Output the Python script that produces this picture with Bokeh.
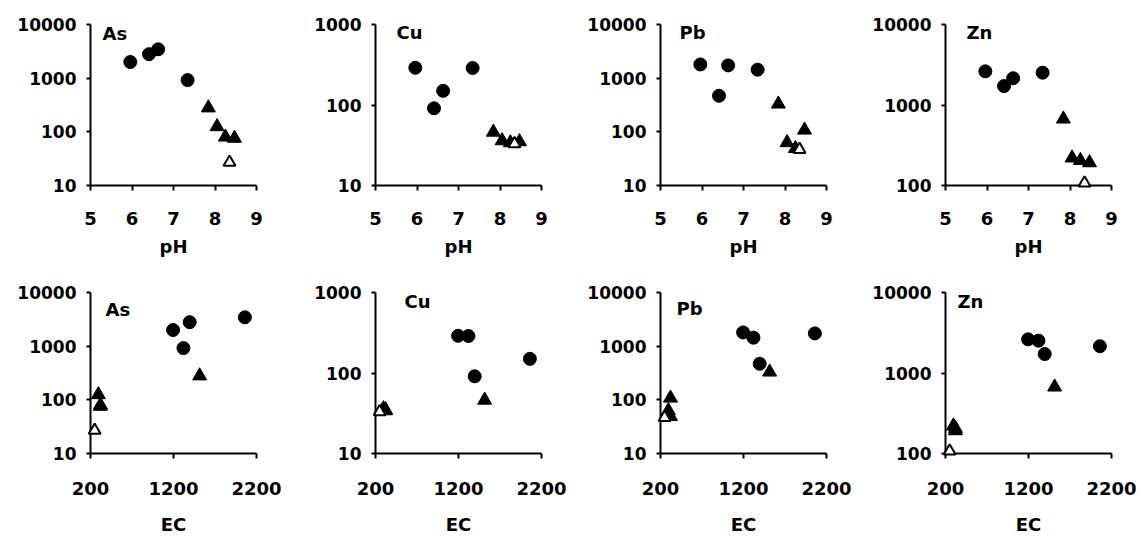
from bokeh.plotting import figure
from bokeh.layouts import gridplot
from bokeh.models import FixedTicker, PrintfTickFormatter, Label, Range1d
from bokeh.embed import file_html
from bokeh.resources import INLINE

# ---- data (9 samples) ----
groups = ["circle"] * 4 + ["filled"] * 4 + ["open"]
pH = [5.96, 6.41, 6.63, 7.34, 7.84, 8.05, 8.25, 8.47, 8.35]
EC = [1195, 1395, 2060, 1320, 1515, 295, 320, 320, 250]
As = [2000, 2800, 3450, 920, 280, 125, 80, 76, 27]
Cu = [290, 91, 150, 288, 46, 36, 34, 35, 33]
Pb = [1800, 470, 1730, 1440, 330, 63, 49, 108, 47]
Zn = [2620, 1720, 2150, 2520, 670, 220, 205, 192, 107]

elements = ["As", "Cu", "Pb", "Zn"]
values = {"As": As, "Cu": Cu, "Pb": Pb, "Zn": Zn}
y_limits = {"As": (10, 10000), "Cu": (10, 1000), "Pb": (10, 10000), "Zn": (100, 10000)}
y_ticks = {"As": [10, 100, 1000, 10000], "Cu": [10, 100, 1000],
           "Pb": [10, 100, 1000, 10000], "Zn": [100, 1000, 10000]}
ph_limits = (5, 9)
ph_ticks = [5, 6, 7, 8, 9]
ec_limits = (200, 2200)
ec_ticks = [200, 1200, 2200]

# ---- styling / layout ----
FONT = "DejaVu Sans"
label_pos_top = [(12, 1), (21, 0), (19, 0), (21, 0)]
label_pos_bot = [(15, 9), (29, 1), (16, 8), (12, 1)]


def make_panel(el, xvals, xlim, xticks, xlabel, width, height, border_right, lab_pos,
               tick_standoff, label_standoff):
    p = figure(width=width, height=height, y_axis_type="log",
               x_range=Range1d(*xlim), y_range=Range1d(*y_limits[el]),
               output_backend="svg", toolbar_location=None,
               min_border_left=90, min_border_right=border_right,
               min_border_top=24, min_border_bottom=height - 185)
    p.outline_line_color = None
    p.xgrid.visible = False
    p.ygrid.visible = False
    p.background_fill_color = "white"
    p.border_fill_color = "white"

    yv = values[el]
    for g, kw in [("circle", dict(marker="circle", size=13, fill_color="black", line_color="black")),
                  ("filled", dict(marker="triangle", size=14, fill_color="black", line_color="black")),
                  ("open", dict(marker="triangle", size=12, fill_color="white", line_color="black", line_width=2))]:
        xs = [x for x, gg in zip(xvals, groups) if gg == g]
        ys = [y for y, gg in zip(yv, groups) if gg == g]
        p.scatter(xs, ys, level="overlay", **kw)

    for ax in (p.xaxis[0], p.yaxis[0]):
        ax.axis_line_width = 2
        ax.axis_line_color = "black"
        ax.major_tick_line_width = 2
        ax.major_tick_line_color = "black"
        ax.major_tick_in = 0
        ax.minor_tick_line_color = None
        ax.major_label_text_font = FONT
        ax.major_label_text_font_style = "bold"
        ax.major_label_text_color = "black"
        ax.formatter = PrintfTickFormatter(format="%d")

    p.xaxis.ticker = FixedTicker(ticks=xticks, minor_ticks=[])
    p.yaxis.ticker = FixedTicker(ticks=y_ticks[el], minor_ticks=[])
    p.xaxis.major_tick_out = 5
    p.yaxis.major_tick_out = 4
    p.xaxis.major_label_text_font_size = "18px"
    p.yaxis.major_label_text_font_size = "17px"
    p.xaxis.major_label_standoff = tick_standoff
    p.yaxis.major_label_standoff = 10
    p.xaxis.axis_label = xlabel
    p.xaxis.axis_label_text_font = FONT
    p.xaxis.axis_label_text_font_style = "bold"
    p.xaxis.axis_label_text_font_size = "18px"
    p.xaxis.axis_label_text_color = "black"
    p.xaxis.axis_label_standoff = label_standoff

    dx, dy = lab_pos
    p.add_layout(Label(x=xlim[0], y=y_limits[el][1], x_offset=dx, y_offset=-(dy - 3),
                       text=el, text_font=FONT, text_font_style="bold",
                       text_font_size="18px", text_color="black", text_baseline="top"))
    return p


widths = [285, 285, 285, 286]
top = [make_panel(el, pH, ph_limits, ph_ticks, "pH", widths[i], 268, widths[i] - 90 - 186,
                  label_pos_top[i], 21, 8) for i, el in enumerate(elements)]
bot = [make_panel(el, EC, ec_limits, ec_ticks, "EC", widths[i], 269, widths[i] - 90 - 166,
                  label_pos_bot[i], 23, 16) for i, el in enumerate(elements)]

grid = gridplot([top, bot], toolbar_location=None)

with open("out.html", "w") as f:
    f.write(file_html(grid, INLINE))
